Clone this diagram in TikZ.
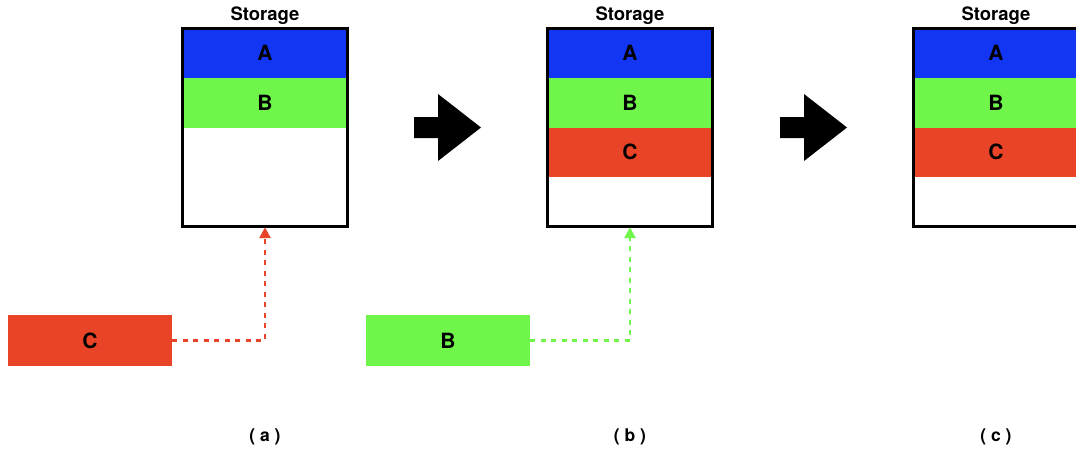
\documentclass[tikz,border=0pt]{standalone}
\usepackage{fontspec}
\setmainfont{TeX Gyre Heros}
\usetikzlibrary{arrows.meta,positioning}
\definecolor{blockblue}{HTML}{1336F4}
\definecolor{blockgreen}{HTML}{70F54A}
\definecolor{blockred}{HTML}{E94427}
\tikzstyle{slot}=[draw=none, minimum width=165pt, minimum height=49.5pt, inner sep=0pt, font=\fontsize{21}{24}\selectfont\bfseries]
\tikzstyle{slotA}=[slot, fill=blockblue]
\tikzstyle{slotB}=[slot, fill=blockgreen]
\tikzstyle{slotC}=[slot, fill=blockred]
\tikzstyle{free}=[slot, fill=white]
\tikzstyle{incoming}=[slot, minimum width=164pt, minimum height=51pt]
\tikzstyle{title}=[inner sep=0pt, font=\fontsize{18.5}{20}\selectfont\bfseries]
\tikzstyle{caption}=[inner sep=0pt, font=\fontsize{17.5}{20}\selectfont\bfseries]
\tikzset{%
    frame/.style={draw=black, line width=3pt},
    write/.style={line width=2.5pt, dash pattern=on 5pt off 5.5pt, -{Triangle[length=11pt,width=11pt]}, shorten >=0.5pt},
  }

\begin{document}
\begin{tikzpicture}[x=1pt, y=-1pt, node distance=49.5pt]
    \clip (0,0) rectangle (1076,453);
    \fill[white] (0,0) rectangle (1076,453);
    % storage before the write
    \node (a1) [slotA] at (265,53.25) {A};
    \node (a2) [slotB, below of=a1] {B};
    \node (a3) [free, below of=a2] {};
    \node (a4) [free, below of=a3] {};
    \draw[frame] (a1.north west) rectangle (a4.south east);
    \node (sa) [title, above of=a1, node distance=38pt] {Storage};
    %
    \node (b1) [slotA] at (630,53.25) {A};
    \node (b2) [slotB, below of=b1] {B};
    \node (b3) [slotC, below of=b2] {C};
    \node (b4) [free, below of=b3] {};
    \draw[frame] (b1.north west) rectangle (b4.south east);
    \node (sb) [title, above of=b1, node distance=38pt] {Storage};
    %
    \node (c1) [slotA] at (996,53.25) {A};
    \node (c2) [slotB, below of=c1] {B};
    \node (c3) [slotC, below of=c2] {C};
    \node (c4) [free, below of=c3] {};
    \draw[frame] (c1.north west) rectangle (c4.south east);
    \node (sc) [title, above of=c1, node distance=38pt] {Storage};

    % incoming blocks
    \node (inC) [incoming, fill=blockred] at (90,340.5) {C};
    \node (inB) [incoming, fill=blockgreen] at (448,340.5) {B};
    \draw [write, draw=blockred] (inC.east) -| (a4.south);
    \draw [write, draw=blockgreen] (inB.east) -| (b4.south);

    % step arrows
    \coordinate (step1) at (414,127.5);
    \coordinate (step2) at (780,127.5);
    \foreach \s in {step1,step2}
      \fill (\s) -- ++(0,-10.5) -- ++(24,0) -- ++(0,-23) -- ++(43,33.5)
        -- ++(-43,33.5) -- ++(0,-23) -- ++(-24,0) -- cycle;

    \node (capa) [caption] at (265,437) {( a )};
    \node (capb) [caption] at (630,437) {( b )};
    \node (capc) [caption] at (996,437) {( c )};
  \end{tikzpicture}
\end{document}
